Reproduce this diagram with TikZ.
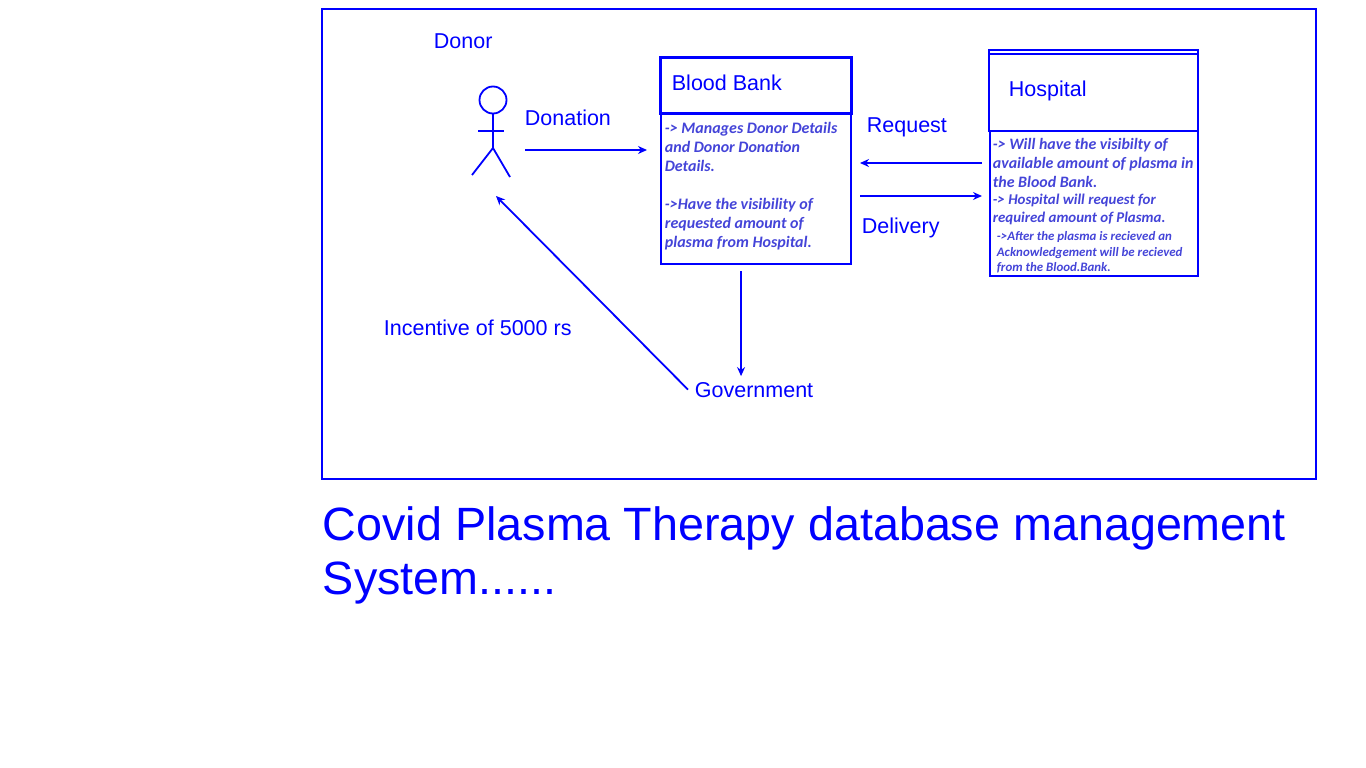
\documentclass[tikz,border=0pt]{standalone}
\usepackage{fontspec}
\setmainfont{Liberation Sans}
\newfontfamily\notefont{Carlito}
\usepackage{xcolor}
\usetikzlibrary{positioning, arrows.meta}
\definecolor{planblue}{RGB}{0,0,255}
\definecolor{noteblue}{RGB}{68,68,216}

\begin{document}
\begin{tikzpicture}[
    x=1pt, y=-1pt,
    line width=1.8pt,
    draw=planblue,
    label/.style={text=planblue, font=\fontsize{21.5}{25}\selectfont, inner sep=0pt, anchor=base west},
    head/.style={rectangle, draw=planblue, line width=3pt, inner sep=0pt, outer sep=0pt, anchor=north west},
    panel/.style={rectangle, draw=planblue, line width=2pt, inner sep=0pt, outer sep=0pt, anchor=north west},
    note/.style={text=noteblue, inner sep=0pt, anchor=north west, align=left},
    line/.style={draw=planblue, line width=1.8pt, -{Stealth[length=9pt, width=8pt]}}
    ]
    \useasboundingbox (0,0) rectangle (1366,768);

    % Frame and title
    \node (frame) [panel, minimum width=994pt, minimum height=470pt] at (322,9) {};
    \node (title) [text=planblue, font=\fontsize{46.7}{54}\selectfont, inner sep=0pt, anchor=north west, align=left] at (322,506) {Covid Plasma Therapy database management\\System......};

    % Blood bank
    \node (bankhead) [head, minimum width=191pt, minimum height=55pt] at (660,58) {};
    \node (bankbody) [panel, minimum width=190pt, minimum height=151pt] at (661,113) {};
    \node (banktitle) [label] at (671,91) {Blood Bank};
    \node (banknote) [note, font=\notefont\bfseries\itshape\fontsize{16}{19}\selectfont] at (664,121) {-> Manages Donor Details\\and Donor Donation\\Details.\\[19pt]->Have the visibility of\\requested amount of\\plasma from Hospital.};

    % Hospital
    \node (hospitaltop) [panel, minimum width=209pt, minimum height=4pt] at (989,50) {};
    \node (hospitalhead) [panel, minimum width=209pt, minimum height=77pt] at (989,54) {};
    \node (hospitalbody) [panel, minimum width=208pt, minimum height=145pt] at (990,131) {};
    \node (hospitaltitle) [label] at (1008,96) {Hospital};
    \node (hospitalnotea) [note, font=\notefont\bfseries\itshape\fontsize{15.9}{19}\selectfont] at (992,137) {-> Will have the visibilty of\\available amount of plasma in\\the Blood Bank.};
    \node (hospitalnoteb) [note, font=\notefont\bfseries\itshape\fontsize{14.9}{18}\selectfont] at (992,193) {-> Hospital will request for\\required amount of Plasma.};
    \node (hospitalnotec) [note, font=\notefont\bfseries\itshape\fontsize{12.9}{15.5}\selectfont] at (996,231) {->After the plasma is recieved an\\Acknowledgement will be recieved\\from the Blood.Bank.};

    % Donor
    \node (donorname) [label] at (433,49) {Donor};
    \node (actor) [minimum width=40pt, minimum height=90pt, inner sep=0pt, outer sep=0pt] at (491,132) {};
    \draw (493,100) circle (13.5);
    \draw (493,114) -- (493,148);
    \draw (478,131) -- (504,131);
    \draw (472,175) -- (493,148) -- (510,177);

    % Labels
    \node (donation) [label] at (524,125) {Donation};
    \node (request) [label] at (866,132) {Request};
    \node (delivery) [label] at (861,233) {Delivery};
    \node (incentive) [label] at (383,335) {Incentive of 5000 rs};
    \node (government) [label] at (694,397) {Government};

    % Arrows
    \draw [line] ([xshift=14pt, yshift=-18pt]actor.east) -- ([xshift=-14pt, yshift=38.5pt]bankbody.west);
    \draw [line] ([xshift=-8pt, yshift=40.5pt]hospitalbody.west) -- ([xshift=9pt, yshift=25.5pt]bankbody.east);
    \draw [line] ([xshift=9pt, yshift=-7.5pt]bankbody.east) -- ([xshift=-8pt, yshift=7.5pt]hospitalbody.west);
    \draw [line] ([xshift=-15pt, yshift=-7pt]bankbody.south) -- ([xshift=-13pt, yshift=5pt]government.north);
    \draw [line] ([xshift=-6pt]government.west) -- ([xshift=5pt, yshift=-19pt]actor.south);
\end{tikzpicture}
\end{document}
